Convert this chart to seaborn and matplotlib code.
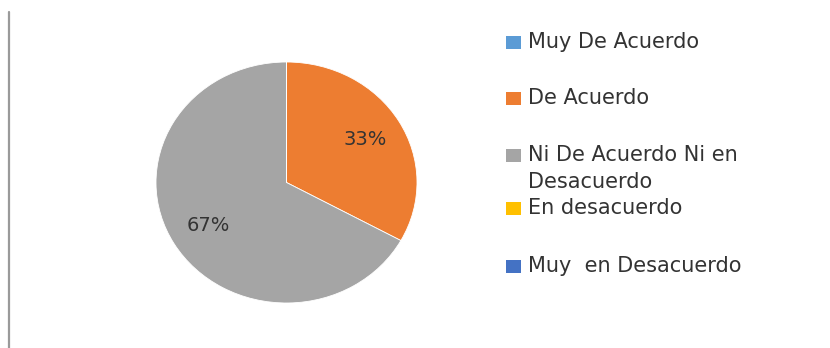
import matplotlib
matplotlib.use("Agg")
import matplotlib.pyplot as plt
from matplotlib.patches import Rectangle
from matplotlib.lines import Line2D
import seaborn as sns

# Survey responses (share of answers, %)
categories = [
    "Muy De Acuerdo",
    "De Acuerdo",
    "Ni De Acuerdo Ni en\nDesacuerdo",
    "En desacuerdo",
    "Muy  en Desacuerdo",
]
values = [0, 33, 67, 0, 0]
colors = ["#5B9BD5", "#ED7D31", "#A5A5A5", "#FFC000", "#4472C4"]

sns.set_theme(style="white")
plt.rcParams["font.family"] = ["DejaVu Sans"]

palette = sns.color_palette(colors)

fig = plt.figure(figsize=(8.30, 3.48), dpi=100)
W, H = 830, 348

# Pie area (slightly wider than tall)
ax = fig.add_axes([156 / W, (H - 303) / H, 261 / W, 241 / H])


def pct_label(p):
    return f"{p:.0f}%" if p > 0.5 else ""


wedges, texts, autotexts = ax.pie(
    values,
    colors=palette,
    startangle=90,
    counterclock=False,
    radius=1.0,
    autopct=pct_label,
    pctdistance=0.70,
    wedgeprops=dict(edgecolor="white", linewidth=0.6),
    textprops=dict(fontsize=14, color="#333333"),
)
ax.set_aspect("auto")
ax.set_xlim(-1, 1)
ax.set_ylim(-1, 1)
ax.axis("off")

# Legend entries on the right: colour square + (possibly two-line) label
legend_y = [42, 98, 155, 208, 266]
for label, col, y in zip(categories, palette, legend_y):
    fig.patches.append(
        Rectangle((506 / W, (H - y - 6.5) / H), 15 / W, 13 / H,
                  transform=fig.transFigure, facecolor=col, edgecolor="none")
    )
    for i, ln in enumerate(label.split("\n")):
        fig.text(528 / W, (H - y - 27 * i) / H, ln, fontsize=15, color="#333333",
                 ha="left", va="center", transform=fig.transFigure)

# Thin grey frame line on the left
fig.add_artist(Line2D([9 / W, 9 / W], [0, (H - 12) / H], color="#9A9A9A",
                      linewidth=1.6, transform=fig.transFigure))

fig.savefig("out.png", dpi=100, facecolor="white")
